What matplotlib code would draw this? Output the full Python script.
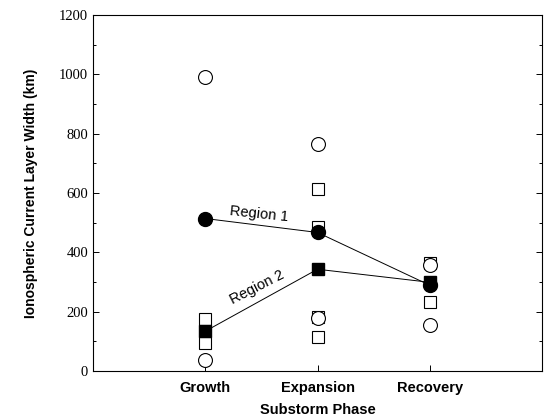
import matplotlib
matplotlib.use("Agg")
import matplotlib.pyplot as plt
from matplotlib.ticker import MultipleLocator

phases = ["Growth", "Expansion", "Recovery"]
phase_pos = [1, 2, 3]

# Region 1 individual events (open circles)
r1_x = [1, 1, 2, 2, 3, 3]
r1_y = [992, 37, 766, 177, 356, 155]
# Region 2 individual events (open squares)
r2_x = [1, 1, 2, 2, 2, 2, 3, 3]
r2_y = [175, 94, 615, 487, 182, 114, 365, 232]
# Means
r1_mean = [514, 467, 289]
r2_mean = [134, 343, 299]

fig = plt.figure(figsize=(5.52, 4.2), dpi=100)
ax = fig.add_axes([93/552, 1-371/420, (542-93)/552, (371-15)/420])

ax.plot(phase_pos, r1_mean, color="black", lw=0.7, zorder=2)
ax.plot(phase_pos, r2_mean, color="black", lw=0.7, zorder=2)
ax.plot(r2_x, r2_y, ls="none", marker="s", ms=9, mfc="white", mec="black", mew=0.8, zorder=3)
ax.plot(r1_x, r1_y, ls="none", marker="o", ms=10, mfc="white", mec="black", mew=0.8, zorder=4)
ax.plot(phase_pos, r1_mean, ls="none", marker="o", ms=10, mfc="black", mec="black", zorder=5)
ax.plot(phase_pos, r2_mean, ls="none", marker="s", ms=9, mfc="black", mec="black", zorder=6)

ax.set_xlim(0, 4)
ax.set_ylim(0, 1200)
ax.set_xticks(phase_pos)
ax.set_xticklabels(phases, fontsize=10.5, fontweight="bold", family="Liberation Sans")
ax.yaxis.set_major_locator(MultipleLocator(200))
ax.yaxis.set_minor_locator(MultipleLocator(100))
for lab in ax.get_yticklabels():
    lab.set_family("Liberation Serif")
    lab.set_fontsize(10.5)
ax.tick_params(axis="y", which="both", direction="in", right=True, length=4, width=0.7)
ax.tick_params(axis="y", which="minor", length=2.5)
ax.tick_params(axis="x", direction="in", length=4, width=0.7, pad=7)
for s in ax.spines.values():
    s.set_linewidth(0.8)

ax.set_ylabel("Ionospheric Current Layer Width (km)", fontsize=10, fontweight="bold",
              family="Liberation Sans", labelpad=15)
ax.set_xlabel("Substorm Phase", fontsize=10.5, fontweight="bold", family="Liberation Sans",
              labelpad=6)

ax.text(1.48, 530, "Region 1", rotation=-6, fontsize=10.5, family="Liberation Sans",
        ha="center", va="center")
ax.text(1.46, 282, "Region 2", rotation=27, fontsize=10.5, family="Liberation Sans",
        ha="center", va="center")

fig.savefig("out.png", dpi=100)
